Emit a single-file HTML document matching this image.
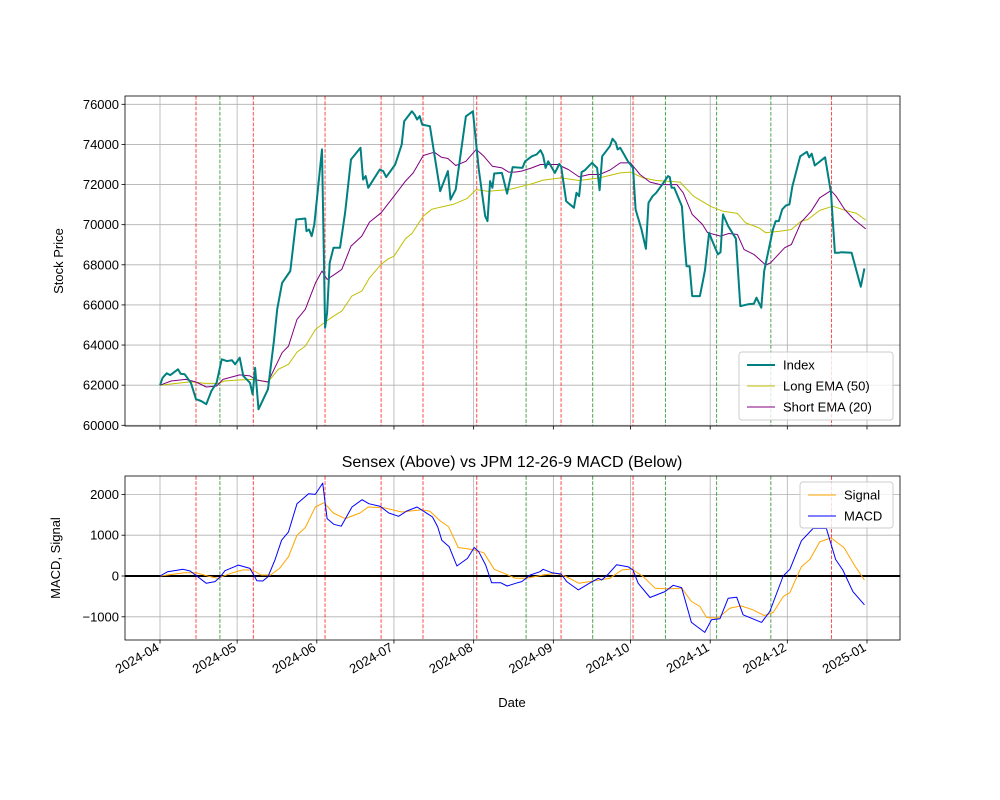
<!DOCTYPE html>
<html><head><meta charset="utf-8"><style>
body{margin:0;background:#fff}
svg{display:block;font-family:"Liberation Sans","DejaVu Sans",sans-serif}
</style></head><body>
<svg id="chart" width="1000" height="800" viewBox="0 0 1000 800"></svg>
<script>
// day offsets from 2024-04-01 and values
const idxDays=[0,1,2.6,4,7,8,9.6,12,14,16,18,20,22,24,26,28,29.2,31,32.4,35,36,37,38.3,42,44.3,45.6,47.5,50.7,53,56.5,57,58,59,60,63,64.2,65,66,67.5,70,72,74.3,78,79,80,81,85.5,86.8,88,91.5,94,95,98,99,100,101,102,105,109,112,113,115,119,121.7,124,126.5,127.4,128.4,129.3,130,133,135,137.2,141,142,144.6,146.5,148,149,150,151,153.6,155.3,156,158,161,162,163,164,165.3,168,170,171,172,175,176,177.3,178,179,182,184,185,187.3,189,190,191.6,193,195.8,197.6,198.3,199,200,203,204,204.8,206,207,210,211.3,212,213.6,214.6,217,218,219,221,224,225.7,228.7,231,232,233.9,235,238.4,239.5,240.7,242,243.5,244.8,246,249,251.6,252.5,253.5,254.7,258.7,261,262.5,264,265,269,272.6,274];
const idxVals=[62000,62370,62590,62500,62790,62570,62540,62120,61300,61210,61050,61710,62120,63290,63200,63240,63040,63370,62460,62120,61540,62870,60800,61800,64200,65780,67100,67690,70260,70310,69680,69760,69430,70010,73750,64860,65610,68100,68850,68850,70590,73250,73830,72250,72420,71840,72750,72670,72370,73000,73990,75160,75650,75490,75240,75410,74990,74910,71670,72670,71250,71750,75400,75650,72750,70420,70180,72170,71840,72550,72580,71550,72870,72830,73160,73410,73500,73710,73450,72830,73160,72580,73030,72910,71170,70840,71590,71420,72620,72720,73080,72830,71720,73410,73910,74280,74080,73750,73830,73160,72830,70760,69760,68800,71090,71420,71590,72080,72420,72370,71840,71840,70920,69100,67930,67930,66440,66440,67270,67740,69600,69260,68520,68630,70510,69930,69300,65940,66030,66060,66360,65860,67690,69760,70180,70180,70760,70960,71010,71920,73410,73630,73360,73540,72950,73360,71590,68600,68600,68630,68600,66910,67820];
const shortDays=[0,4.3,10,14,18,22,24.5,31,35,37.6,42,47.5,50,53.3,56.5,60.5,63,65,68.8,70.7,74.3,78.5,81.5,86,91,95.5,98.5,102.4,106.7,109.5,112,115,119,123,126,129.3,133,135.6,138,140.6,144.6,148,154.6,158.8,163,167,171,175,179,183,186.7,190.6,194.6,201,203.5,207,211,213,218,221.3,224.6,227.2,231,235.6,237.5,243,245.6,249.4,253.3,256.6,261,263,266.3,270,274.5];
const shortVals=[62000,62210,62290,62160,61910,61960,62290,62510,62460,62260,62160,63620,63950,65280,65780,67100,67690,67270,67600,67770,68930,69430,70130,70590,71420,72170,72580,73450,73610,73360,73300,72950,73160,73750,73410,72910,72830,72620,72620,72670,72830,73000,73000,72750,72380,72500,72500,72720,73080,73080,72500,72120,72000,72000,71590,70510,70010,69600,69430,69560,69510,68760,68520,67990,68100,68850,69010,70130,70670,71340,71700,71420,70760,70260,69790];
const longDays=[0,12,17.5,22.6,25,30.5,36.3,42,46,50,53.3,56.5,60.5,64.3,67.5,70.7,74.6,78.5,81.5,86,88.8,91,95.5,98,102.4,105.6,109,114,119.4,123,127.5,135.6,141,145,149,156,163,171,179,183,188,193,202.3,207.5,214,219,224.6,227.8,233,235.6,241.4,245.6,249.4,252,256.6,261.7,266.3,270.9,274.5];
const longVals=[62000,62170,62090,62090,62210,62260,62290,62160,62790,63040,63650,63950,64780,65150,65440,65690,66440,66690,67350,68020,68300,68430,69300,69560,70420,70760,70870,71010,71300,71750,71670,71750,71920,72050,72220,72330,72200,72330,72580,72620,72330,72200,72120,71420,70920,70670,70560,70090,69840,69600,69680,69760,70180,70260,70710,70920,70720,70560,70230];
const macdDays=[0,3,9,11.7,14.3,18,21.4,23.3,25.3,30.5,35,37.7,40,42,44.7,47.3,50,53.3,57.8,60.4,63.3,65,67.6,70.5,74.7,78.6,81.2,85.7,89,92.8,96,100,104,106,108,109.6,112.5,115.5,119.6,122.2,124,126.7,129,132.5,135,138.3,140.7,144,147.8,149,152.4,156,158.2,162.7,167,170.5,171.8,174.4,177.6,182,184,186,190.6,196.4,199.6,202.9,206.7,211.9,214.5,217.8,221,224.3,226.8,234,237.2,242.4,245,249.5,254,259.2,262.8,265.6,269.5,274];
const macdVals=[0,105,163,122,0,-179,-138,-33,130,268,187,-114,-122,-16,390,878,1081,1772,2016,2000,2276,1406,1268,1220,1691,1870,1772,1707,1545,1463,1593,1691,1528,1447,1203,878,715,244,431,699,594,268,-163,-163,-244,-179,-138,24,106,163,81,49,-138,-341,-179,-57,-98,49,276,228,146,-179,-528,-382,-228,-285,-1138,-1382,-1073,-1049,-545,-520,-951,-1138,-870,0,163,862,1163,1163,407,146,-382,-707];
const sigDays=[0,9.5,14,18.5,22.4,27.6,32,36,39.3,43,46.5,50,53.3,56.5,60.4,63.8,67.4,72,77.8,81,87,94,101.8,105,109,112.3,116,121.5,126,130,133.8,138.3,142.6,149,154,157.5,163,167,175,179.6,183.5,188,192.6,197.8,203,206.7,210,212.6,217,221.6,226,230.6,235,238.5,242.4,245,249.5,252.8,256.6,261,266,270.5,274];
const sigVals=[0,81,81,0,-57,65,146,146,24,24,187,472,1000,1187,1691,1797,1545,1406,1545,1691,1675,1569,1626,1585,1350,1203,699,650,569,163,65,-57,-57,24,65,0,-179,-138,-57,146,171,-16,-301,-317,-301,-626,-748,-1016,-1033,-789,-732,-829,-967,-894,-504,-407,228,407,837,935,699,228,-98];
const redDays=[14,36.3,64.2,86,102.3,123.2,156,184];
const redDays2=[261.2];
const greenDays=[23.3,142.4,168.3,196.6,216.5,237.6];
const monthLabels=["2024-04","2024-05","2024-06","2024-07","2024-08","2024-09","2024-10","2024-11","2024-12","2025-01"];
const monthDays=[0,30,61,91,122,153,183,214,244,275];
const topTicks=[60000,62000,64000,66000,68000,70000,72000,74000,76000];
const botTicks=[-1000,0,1000,2000];

const NS="http://www.w3.org/2000/svg";
const svg=document.getElementById('chart');
function el(tag,attrs,parent,text){const e=document.createElementNS(NS,tag);for(const k in attrs)e.setAttribute(k,attrs[k]);if(text!==undefined)e.textContent=text;(parent||svg).appendChild(e);return e;}
const X0=125,X1=900;
const xs=d=>160+d*(707/275);
const T={top:96,bot:426,y:v=>425.3-(v-60000)*(321/16000)};
const B={top:476,bot:640,y:v=>576-v*0.0408};
const red=[...redDays,...redDays2];

function panel(P,ticks,name){
  const g=el('g',{});
  
  
  // grid
  monthDays.forEach(d=>{const l=el('line',{x1:xs(d),x2:xs(d),y1:P.top,y2:P.bot,stroke:'#b0b0b0','stroke-width':0.8},g);});
  ticks.forEach(v=>{const l=el('line',{x1:X0,x2:X1,y1:P.y(v),y2:P.y(v),stroke:'#b0b0b0','stroke-width':0.8},g);
    const t=el('line',{x1:X0-3.5,x2:X0,y1:P.y(v),y2:P.y(v),stroke:'#000','stroke-width':0.8},g);
    const lb=el('text',{x:X0-6,y:P.y(v)+4.5,'text-anchor':'end','font-size':13,fill:'#000'},g,v<0?'\u2212'+Math.abs(v):String(v));});
  monthDays.forEach(d=>{const t=el('line',{x1:xs(d),x2:xs(d),y1:P.bot,y2:P.bot+3.5,stroke:'#000','stroke-width':0.8},g);});
  red.forEach(d=>{const l=el('line',{x1:xs(d),x2:xs(d),y1:P.top,y2:P.bot,stroke:'#ff0000','stroke-width':1,'stroke-dasharray':'3.7,1.6',opacity:0.7},g);});
  greenDays.forEach(d=>{const l=el('line',{x1:xs(d),x2:xs(d),y1:P.top,y2:P.bot,stroke:'#008000','stroke-width':1,'stroke-dasharray':'3.7,1.6',opacity:0.7},g);});
  return g;
}
function series(P,days,vals,color,w,name,g){
  const pts=days.map((d,i)=>xs(d).toFixed(1)+','+P.y(vals[i]).toFixed(1)).join(' ');
  const p=el('polyline',{points:pts,fill:'none',stroke:color,'stroke-width':w,'stroke-linejoin':'round'},g);
  
  
}
const gt=panel(T,topTicks,'price-panel');
series(T,longDays,longVals,'#bfbf00',1,'long-ema-line',gt);
series(T,shortDays,shortVals,'#800080',1,'short-ema-line',gt);
series(T,idxDays,idxVals,'#008080',2,'index-line',gt);
const gb=panel(B,botTicks,'macd-panel');
const z=el('line',{x1:X0,x2:X1,y1:B.y(0),y2:B.y(0),stroke:'#000','stroke-width':2},gb);

series(B,sigDays,sigVals,'#ffa500',1,'signal-line',gb);
series(B,macdDays,macdVals,'#0000ff',1,'macd-line',gb);
// frames
[[T,'price-frame'],[B,'macd-frame']].forEach(([P,n])=>{const r=el('rect',{x:X0,y:P.top,width:X1-X0,height:P.bot-P.top,fill:'none',stroke:'#000','stroke-width':0.8});});
// x labels
monthDays.forEach((d,i)=>{const x=xs(d),y=650;const t=el('text',{x:x,y:y,'text-anchor':'end','font-size':13,transform:`rotate(-30 ${x} ${y})`,fill:'#000'},svg,monthLabels[i]);});
</script>
<text x="512" y="708" text-anchor="middle" font-size="13" font-family="Liberation Sans, sans-serif"></text>
<script>
const NS2="http://www.w3.org/2000/svg";const s2=document.getElementById('chart');
function tx(attrs,text,name){const e=document.createElementNS(NS2,'text');for(const k in attrs)e.setAttribute(k,attrs[k]);e.textContent=text;


s2.appendChild(e);return e;}
tx({x:512,y:707,'text-anchor':'middle','font-size':13},'Date','x-axis-title');
tx({x:63,y:261,'text-anchor':'middle','font-size':13,transform:'rotate(-90 63 261)'},'Stock Price','price-axis-title');
tx({x:60,y:558,'text-anchor':'middle','font-size':13,transform:'rotate(-90 60 558)'},'MACD, Signal','macd-axis-title');
tx({x:512,y:467,'text-anchor':'middle','font-size':16},'Sensex (Above) vs JPM 12-26-9 MACD (Below)','chart-title');
function legend(x,y,w,h,items,name){
  const g=document.createElementNS(NS2,'g');
  
  
  s2.appendChild(g);
  const r=document.createElementNS(NS2,'rect');
  [['x',x],['y',y],['width',w],['height',h],['rx',3],['fill','#fff'],['fill-opacity',0.8],['stroke','#ccc'],['stroke-width',1]].forEach(a=>r.setAttribute(a[0],a[1]));
  g.appendChild(r);
  items.forEach((it,i)=>{const cy=y+13+i*21;
    const l=document.createElementNS(NS2,'line');
    [['x1',x+8],['x2',x+36],['y1',cy],['y2',cy],['stroke',it[1]],['stroke-width',it[2]]].forEach(a=>l.setAttribute(a[0],a[1]));
    
    
    g.appendChild(l);
    const t=document.createElementNS(NS2,'text');
    [['x',x+44],['y',cy+4.5],['font-size',13]].forEach(a=>t.setAttribute(a[0],a[1]));
    t.textContent=it[0];
    
    
    g.appendChild(t);});
}
legend(739,352,154,68,[['Index','#008080',2],['Long EMA (50)','#bfbf00',1],['Short EMA (20)','#800080',1]],'price-legend');
legend(800,482,93,46,[['Signal','#ffa500',1],['MACD','#0000ff',1]],'macd-legend');
</script>
</body></html>
